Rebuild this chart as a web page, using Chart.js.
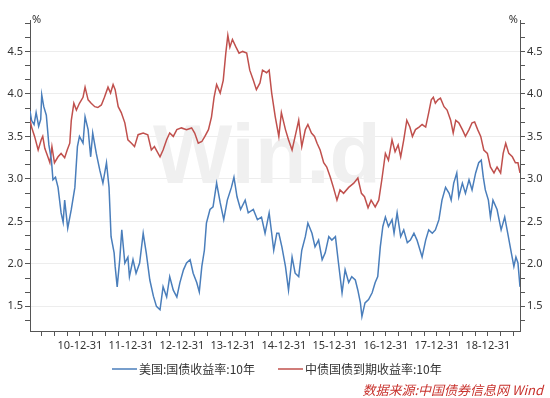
<!DOCTYPE html>
<html>
<head>
<meta charset="utf-8">
<script src="https://cdn.jsdelivr.net/npm/chart.js@4"></script>
<style>
  body { margin: 0; background: #fff; }
</style>
</head>
<body>
<canvas id="yieldChart" width="550" height="398"></canvas>
<script>
// series names
const seriesNames = ['美国:国债收益率:10年', '中债国债到期收益率:10年'];

// US 10y (decimal year, %)
const usYears = [2010.02, 2010.05, 2010.10, 2010.14, 2010.19, 2010.23, 2010.25, 2010.29, 2010.34, 2010.39,
  2010.44, 2010.47, 2010.52, 2010.57, 2010.63, 2010.67, 2010.70, 2010.76, 2010.83, 2010.90,
  2010.95, 2010.99, 2011.06, 2011.10, 2011.16, 2011.21, 2011.25, 2011.32, 2011.39, 2011.45,
  2011.52, 2011.57, 2011.61, 2011.67, 2011.69, 2011.73, 2011.78, 2011.82, 2011.88, 2011.94,
  2011.97, 2012.04, 2012.10, 2012.17, 2012.24, 2012.30, 2012.37, 2012.44, 2012.50, 2012.57,
  2012.63, 2012.70, 2012.76, 2012.83, 2012.90, 2012.96, 2013.03, 2013.09, 2013.16, 2013.22,
  2013.29, 2013.34, 2013.39, 2013.44, 2013.48, 2013.55, 2013.61, 2013.68, 2013.75, 2013.82,
  2013.89, 2013.97, 2014.02, 2014.08, 2014.15, 2014.24, 2014.30, 2014.40, 2014.48, 2014.56,
  2014.63, 2014.71, 2014.76, 2014.80, 2014.86, 2014.90, 2014.96, 2015.03, 2015.09, 2015.16,
  2015.22, 2015.29, 2015.35, 2015.42, 2015.47, 2015.55, 2015.61, 2015.68, 2015.75, 2015.81,
  2015.88, 2015.94, 2016.01, 2016.07, 2016.14, 2016.20, 2016.27, 2016.33, 2016.40, 2016.45,
  2016.50, 2016.53, 2016.59, 2016.66, 2016.73, 2016.79, 2016.84, 2016.89, 2016.94, 2016.99,
  2017.05, 2017.12, 2017.16, 2017.22, 2017.29, 2017.35, 2017.42, 2017.48, 2017.55, 2017.61,
  2017.71, 2017.78, 2017.84, 2017.91, 2017.97, 2018.04, 2018.10, 2018.17, 2018.24, 2018.28,
  2018.33, 2018.39, 2018.43, 2018.50, 2018.56, 2018.63, 2018.69, 2018.76, 2018.82, 2018.87,
  2018.91, 2018.95, 2019.01, 2019.05, 2019.10, 2019.18, 2019.26, 2019.33, 2019.39, 2019.46,
  2019.51, 2019.55, 2019.59, 2019.63];
const usYields = [3.80, 3.69, 3.64, 3.78, 3.62, 3.70, 3.99, 3.85, 3.75, 3.40,
  3.22, 2.99, 3.02, 2.90, 2.60, 2.49, 2.75, 2.42, 2.64, 2.90,
  3.38, 3.50, 3.42, 3.73, 3.58, 3.26, 3.54, 3.30, 3.10, 2.95,
  3.19, 2.90, 2.32, 2.13, 1.97, 1.73, 2.05, 2.40, 2.01, 2.08,
  1.85, 2.05, 1.89, 2.01, 2.36, 2.13, 1.81, 1.62, 1.50, 1.46,
  1.73, 1.61, 1.85, 1.69, 1.61, 1.78, 1.93, 2.01, 2.05, 1.89,
  1.78, 1.67, 1.97, 2.16, 2.48, 2.64, 2.67, 2.95, 2.72, 2.52,
  2.75, 2.90, 3.02, 2.79, 2.64, 2.75, 2.60, 2.64, 2.52, 2.55,
  2.36, 2.60, 2.36, 2.16, 2.36, 2.36, 2.20, 1.97, 1.69, 2.08,
  1.89, 1.85, 2.16, 2.32, 2.48, 2.36, 2.20, 2.28, 2.05, 2.13,
  2.32, 2.28, 2.32, 2.01, 1.66, 1.93, 1.78, 1.85, 1.81, 1.69,
  1.54, 1.38, 1.54, 1.58, 1.66, 1.78, 1.85, 2.20, 2.44, 2.55,
  2.44, 2.52, 2.36, 2.60, 2.32, 2.40, 2.25, 2.28, 2.36, 2.28,
  2.08, 2.28, 2.40, 2.36, 2.40, 2.52, 2.75, 2.90, 2.83, 2.75,
  2.95, 3.07, 2.79, 2.95, 2.83, 2.99, 2.87, 3.07, 3.19, 3.22,
  3.02, 2.87, 2.75, 2.55, 2.75, 2.64, 2.40, 2.55, 2.36, 2.13,
  1.97, 2.08, 2.01, 1.73];

// China 10y (decimal year, %)
const cnYears = [2010.02, 2010.05, 2010.11, 2010.18, 2010.24, 2010.27, 2010.31, 2010.37, 2010.41, 2010.45,
  2010.50, 2010.57, 2010.63, 2010.70, 2010.75, 2010.80, 2010.83, 2010.88, 2010.93, 2010.99,
  2011.06, 2011.10, 2011.16, 2011.22, 2011.29, 2011.35, 2011.42, 2011.48, 2011.55, 2011.60,
  2011.65, 2011.69, 2011.75, 2011.81, 2011.88, 2011.94, 2012.01, 2012.07, 2012.14, 2012.24,
  2012.33, 2012.40, 2012.46, 2012.57, 2012.63, 2012.70, 2012.76, 2012.83, 2012.90, 2012.99,
  2013.09, 2013.19, 2013.25, 2013.32, 2013.39, 2013.45, 2013.52, 2013.58, 2013.63, 2013.68,
  2013.75, 2013.81, 2013.86, 2013.90, 2013.94, 2013.99, 2014.06, 2014.12, 2014.19, 2014.27,
  2014.33, 2014.40, 2014.46, 2014.53, 2014.58, 2014.66, 2014.71, 2014.76, 2014.83, 2014.90,
  2014.95, 2015.03, 2015.09, 2015.16, 2015.22, 2015.29, 2015.35, 2015.42, 2015.47, 2015.54,
  2015.60, 2015.65, 2015.71, 2015.78, 2015.84, 2015.91, 2015.97, 2016.04, 2016.10, 2016.17,
  2016.27, 2016.37, 2016.45, 2016.52, 2016.58, 2016.65, 2016.71, 2016.79, 2016.86, 2016.92,
  2016.99, 2017.05, 2017.12, 2017.18, 2017.24, 2017.29, 2017.35, 2017.41, 2017.47, 2017.52,
  2017.58, 2017.65, 2017.71, 2017.78, 2017.84, 2017.89, 2017.93, 2017.97, 2018.02, 2018.07,
  2018.14, 2018.20, 2018.27, 2018.32, 2018.37, 2018.43, 2018.50, 2018.56, 2018.63, 2018.69,
  2018.74, 2018.80, 2018.86, 2018.92, 2018.99, 2019.05, 2019.12, 2019.18, 2019.25, 2019.30,
  2019.35, 2019.41, 2019.48, 2019.54, 2019.59, 2019.63];
const cnYields = [3.70, 3.61, 3.50, 3.34, 3.46, 3.50, 3.36, 3.26, 3.19, 3.38,
  3.19, 3.26, 3.30, 3.25, 3.34, 3.42, 3.69, 3.89, 3.81, 3.89,
  3.96, 4.08, 3.93, 3.89, 3.85, 3.84, 3.87, 3.96, 4.08, 4.01,
  4.11, 4.05, 3.85, 3.78, 3.66, 3.46, 3.42, 3.38, 3.52, 3.54,
  3.52, 3.34, 3.38, 3.26, 3.34, 3.46, 3.54, 3.50, 3.58, 3.60,
  3.58, 3.60, 3.54, 3.42, 3.44, 3.50, 3.58, 3.73, 3.96, 4.11,
  4.01, 4.16, 4.48, 4.69, 4.55, 4.64, 4.55, 4.48, 4.50, 4.48,
  4.28, 4.16, 4.05, 4.13, 4.28, 4.25, 4.28, 4.01, 3.73, 3.50,
  3.78, 3.58, 3.46, 3.34, 3.50, 3.69, 3.38, 3.58, 3.64, 3.54,
  3.50, 3.42, 3.34, 3.19, 3.14, 3.02, 2.90, 2.75, 2.87, 2.83,
  2.90, 2.95, 3.01, 2.83, 2.79, 2.66, 2.75, 2.67, 2.75, 2.99,
  3.30, 3.22, 3.46, 3.32, 3.40, 3.26, 3.46, 3.69, 3.61, 3.50,
  3.58, 3.61, 3.64, 3.61, 3.78, 3.93, 3.96, 3.89, 3.93, 3.95,
  3.85, 3.81, 3.69, 3.54, 3.69, 3.66, 3.58, 3.50, 3.58, 3.66,
  3.67, 3.58, 3.50, 3.34, 3.30, 3.14, 3.07, 3.14, 3.07, 3.30,
  3.42, 3.30, 3.26, 3.19, 3.19, 3.07];

// axis labels
const xTickLabels = ['10-12-31', '11-12-31', '12-12-31', '13-12-31', '14-12-31',
  '15-12-31', '16-12-31', '17-12-31', '18-12-31'];
const yTickLabels = ['1.5', '2.0', '2.5', '3.0', '3.5', '4.0', '4.5'];
const yMin = 1.21, yMax = 4.87;

const blue = '#4a7ebb';
const red = '#c0504d';
const axisColor = '#555';
const textColor = '#333';

Chart.defaults.font.family = '"Noto Sans", "Noto Sans CJK SC", sans-serif';
Chart.defaults.color = textColor;

// year-end label -> position on the decimal-year axis
const labelYear = {};
xTickLabels.forEach(l => { labelYear[2000 + parseInt(l.slice(0, 2)) + 1] = l; });

const xMin = usYears[0], xMax = usYears[usYears.length - 1];
const quarterTicks = [];
for (let y = Math.floor(xMin); y <= Math.ceil(xMax); y++) {
  for (let q = 0; q < 4; q++) {
    const v = y + q * 0.25;
    if (v > xMin && v < xMax) quarterTicks.push(v);
  }
}

// y ticks: majors at labels, two minor ticks between
const yTicks = [];
const majors = yTickLabels.map(Number);
const step = (majors[1] - majors[0]) / 3;
for (let v = majors[0] - step * 3; v <= yMax + 1e-9; v += step) {
  if (v >= yMin) yTicks.push(Math.round(v * 1000) / 1000);
}
const isMajor = v => yTickLabels.indexOf(Number(v).toFixed(1)) >= 0 && Math.abs(v * 2 - Math.round(v * 2)) < 1e-6;

const yAxis = (pos) => ({
  type: 'linear',
  position: pos,
  min: yMin,
  max: yMax,
  afterBuildTicks: s => { s.ticks = yTicks.map(v => ({ value: v })); },
  afterFit: s => { s.width = 30; },
  ticks: {
    autoSkip: false,
    padding: 2,
    font: { size: 11 },
    color: textColor,
    callback: v => isMajor(v) ? Number(v).toFixed(1) : ''
  },
  grid: {
    drawOnChartArea: pos === 'left',
    color: c => (c.tick && isMajor(c.tick.value)) ? '#ededed' : 'rgba(0,0,0,0)',
    tickColor: axisColor,
    tickLength: 5
  },
  border: { color: axisColor, width: 1 }
});

const extras = {
  id: 'extras',
  beforeDatasetsDraw(chart) {
    const ctx = chart.ctx;
    ctx.save();
    ctx.font = 'bold 84px "Liberation Sans", Arial, sans-serif';
    ctx.fillStyle = '#f0f0f0';
    ctx.textBaseline = 'alphabetic';
    ctx.fillText('Win.d', 153, 183);
    ctx.restore();
  },
  afterDraw(chart) {
    const ctx = chart.ctx;
    const area = chart.chartArea;
    ctx.save();
    ctx.fillStyle = textColor;
    ctx.font = '11px "Noto Sans", sans-serif';
    ctx.textBaseline = 'middle';
    ctx.textAlign = 'left';
    ctx.fillText('%', area.left + 2, area.top);
    ctx.textAlign = 'right';
    ctx.fillText('%', area.right - 2, area.top);

    // legend
    const items = [[seriesNames[0], blue, 112], [seriesNames[1], red, 278]];
    ctx.textAlign = 'left';
    ctx.font = '12px "Noto Sans CJK SC", sans-serif';
    items.forEach(([name, col, x]) => {
      ctx.strokeStyle = col;
      ctx.lineWidth = 1.5;
      ctx.beginPath();
      ctx.moveTo(x, 369);
      ctx.lineTo(x + 25, 369);
      ctx.stroke();
      ctx.fillStyle = textColor;
      ctx.fillText(name, x + 27, 369);
    });

    // source note
    ctx.font = 'italic 13px "Noto Sans CJK SC", sans-serif';
    ctx.fillStyle = '#c8322d';
    ctx.textAlign = 'right';
    ctx.fillText('数据来源:中国债券信息网 Wind', 543, 390);
    ctx.restore();
  }
};

new Chart(document.getElementById('yieldChart'), {
  type: 'line',
  data: {
    datasets: [
      {
        label: seriesNames[0],
        data: usYears.map((x, i) => ({ x: x, y: usYields[i] })),
        borderColor: blue,
        borderWidth: 1.5,
        pointRadius: 0,
        tension: 0,
        yAxisID: 'y'
      },
      {
        label: seriesNames[1],
        data: cnYears.map((x, i) => ({ x: x, y: cnYields[i] })),
        borderColor: red,
        borderWidth: 1.5,
        pointRadius: 0,
        tension: 0,
        yAxisID: 'y'
      }
    ]
  },
  options: {
    responsive: false,
    animation: false,
    layout: { padding: { top: 20, left: 0, right: 0, bottom: 0 } },
    plugins: {
      legend: { display: false },
      tooltip: { enabled: false }
    },
    scales: {
      x: {
        type: 'linear',
        min: xMin,
        max: xMax,
        afterBuildTicks: s => { s.ticks = quarterTicks.map(v => ({ value: v })); },
        afterFit: s => { s.height = 67; },
        ticks: {
          autoSkip: false,
          maxRotation: 0,
          padding: 3,
          font: { size: 11 },
          color: textColor,
          callback: v => labelYear[Math.round(v)] && Math.abs(v - Math.round(v)) < 1e-6 ? labelYear[Math.round(v)] : ''
        },
        grid: { drawOnChartArea: false, tickColor: axisColor, tickLength: 5 },
        border: { color: axisColor, width: 1 }
      },
      y: yAxis('left'),
      y2: yAxis('right')
    }
  },
  plugins: [extras]
});
</script>
</body>
</html>
